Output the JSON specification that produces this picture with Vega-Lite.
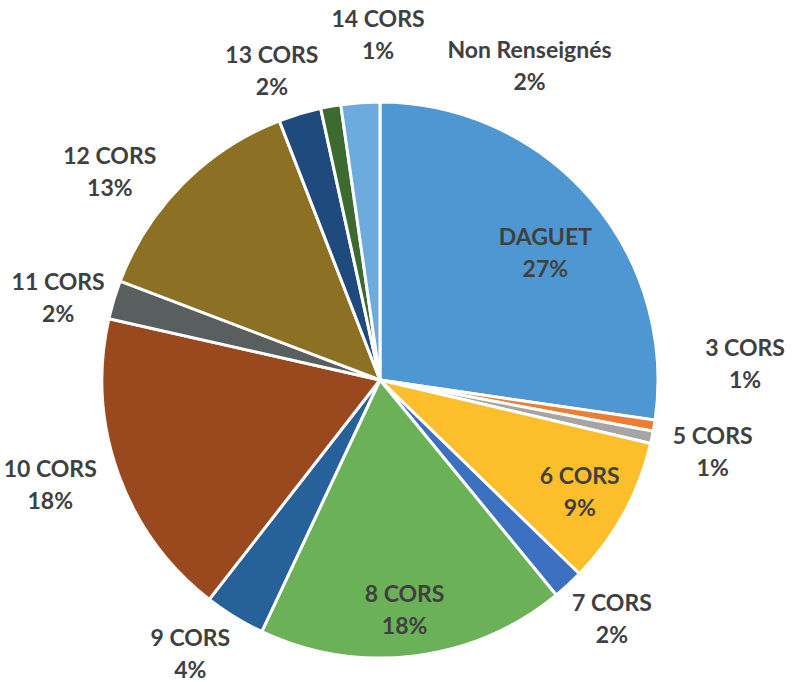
{
  "$schema": "https://vega.github.io/schema/vega-lite/v6.json",
  "width": 760,
  "height": 760,
  "autosize": {"type": "none"},
  "padding": {"left": 0, "top": 0, "right": 38, "bottom": 0},
  "background": "white",
  "config": {"view": {"stroke": null}, "text": {"lineBreak": "\n", "font": "Lato", "fontWeight": "bold", "fontSize": 23, "lineHeight": 32, "fill": "#404040"}},
  "data": {
    "values": [
      {"cat": "DAGUET", "value": 27.28, "pct": "27%", "rank": 1},
      {"cat": "3 CORS", "value": 0.64, "pct": "1%", "rank": 2},
      {"cat": "5 CORS", "value": 0.72, "pct": "1%", "rank": 3},
      {"cat": "6 CORS", "value": 8.6, "pct": "9%", "rank": 4},
      {"cat": "7 CORS", "value": 1.8, "pct": "2%", "rank": 5},
      {"cat": "8 CORS", "value": 17.9, "pct": "18%", "rank": 6},
      {"cat": "9 CORS", "value": 3.53, "pct": "4%", "rank": 7},
      {"cat": "10 CORS", "value": 18.0, "pct": "18%", "rank": 8},
      {"cat": "11 CORS", "value": 2.25, "pct": "2%", "rank": 9},
      {"cat": "12 CORS", "value": 13.3, "pct": "13%", "rank": 10},
      {"cat": "13 CORS", "value": 2.47, "pct": "2%", "rank": 11},
      {"cat": "14 CORS", "value": 1.17, "pct": "1%", "rank": 12},
      {"cat": "Non Renseignés", "value": 2.25, "pct": "2%", "rank": 13}
    ]
  },
  "transform": [{"calculate": "datum.cat + '\\n' + datum.pct", "as": "label"}],
  "encoding": {
    "theta": {"field": "value", "type": "quantitative", "stack": true},
    "order": {"field": "rank", "type": "quantitative"},
    "detail": {"field": "cat", "type": "nominal"}
  },
  "layer": [
    {
      "mark": {"type": "arc", "outerRadius": 278, "stroke": "white", "strokeWidth": 3},
      "encoding": {
        "color": {
          "field": "cat",
          "type": "nominal",
          "legend": null,
          "scale": {
            "domain": ["DAGUET", "3 CORS", "5 CORS", "6 CORS", "7 CORS", "8 CORS", "9 CORS", "10 CORS", "11 CORS", "12 CORS", "13 CORS", "14 CORS", "Non Renseignés"],
            "range": ["#4F97D2", "#ED7D31", "#A5A5A5", "#FDBE2C", "#3C70C0", "#6AB158", "#26619A", "#9A481E", "#595E5F", "#8C7124", "#1F4A7E", "#3D6B2F", "#6DAADE"]
          }
        }
      }
    },
    {"mark": {"type": "text", "radius": 208, "dx": 8, "dy": -6},
     "encoding": {"text": {"field": "label", "type": "nominal"}, "opacity": {"condition": {"test": "datum.cat === 'DAGUET'", "value": 1}, "value": 0}}},
    {"mark": {"type": "text", "radius": 365, "dx": 5, "dy": -91},
     "encoding": {"text": {"field": "label", "type": "nominal"}, "opacity": {"condition": {"test": "datum.cat === '3 CORS'", "value": 1}, "value": 0}}},
    {"mark": {"type": "text", "radius": 340, "dx": 0, "dy": -13},
     "encoding": {"text": {"field": "label", "type": "nominal"}, "opacity": {"condition": {"test": "datum.cat === '5 CORS'", "value": 1}, "value": 0}}},
    {"mark": {"type": "text", "radius": 230, "dx": -2, "dy": -13},
     "encoding": {"text": {"field": "label", "type": "nominal"}, "opacity": {"condition": {"test": "datum.cat === '6 CORS'", "value": 1}, "value": 0}}},
    {"mark": {"type": "text", "radius": 334, "dx": 6, "dy": -22},
     "encoding": {"text": {"field": "label", "type": "nominal"}, "opacity": {"condition": {"test": "datum.cat === '7 CORS'", "value": 1}, "value": 0}}},
    {"mark": {"type": "text", "radius": 232, "dx": -4, "dy": -15},
     "encoding": {"text": {"field": "label", "type": "nominal"}, "opacity": {"condition": {"test": "datum.cat === '8 CORS'", "value": 1}, "value": 0}}},
    {"mark": {"type": "text", "radius": 334, "dx": -15, "dy": -26},
     "encoding": {"text": {"field": "label", "type": "nominal"}, "opacity": {"condition": {"test": "datum.cat === '9 CORS'", "value": 1}, "value": 0}}},
    {"mark": {"type": "text", "radius": 346, "dx": -4, "dy": -27},
     "encoding": {"text": {"field": "label", "type": "nominal"}, "opacity": {"condition": {"test": "datum.cat === '10 CORS'", "value": 1}, "value": 0}}},
    {"mark": {"type": "text", "radius": 332, "dx": -4, "dy": -1},
     "encoding": {"text": {"field": "label", "type": "nominal"}, "opacity": {"condition": {"test": "datum.cat === '11 CORS'", "value": 1}, "value": 0}}},
    {"mark": {"type": "text", "radius": 340, "dx": -29, "dy": 17},
     "encoding": {"text": {"field": "label", "type": "nominal"}, "opacity": {"condition": {"test": "datum.cat === '12 CORS'", "value": 1}, "value": 0}}},
    {"mark": {"type": "text", "radius": 326, "dx": -14, "dy": -12},
     "encoding": {"text": {"field": "label", "type": "nominal"}, "opacity": {"condition": {"test": "datum.cat === '13 CORS'", "value": 1}, "value": 0}}},
    {"mark": {"type": "text", "radius": 344, "dx": 59, "dy": -21},
     "encoding": {"text": {"field": "label", "type": "nominal"}, "opacity": {"condition": {"test": "datum.cat === '14 CORS'", "value": 1}, "value": 0}}},
    {"mark": {"type": "text", "radius": 347, "dx": 174, "dy": 17},
     "encoding": {"text": {"field": "label", "type": "nominal"}, "opacity": {"condition": {"test": "datum.cat === 'Non Renseignés'", "value": 1}, "value": 0}}}
  ]
}
